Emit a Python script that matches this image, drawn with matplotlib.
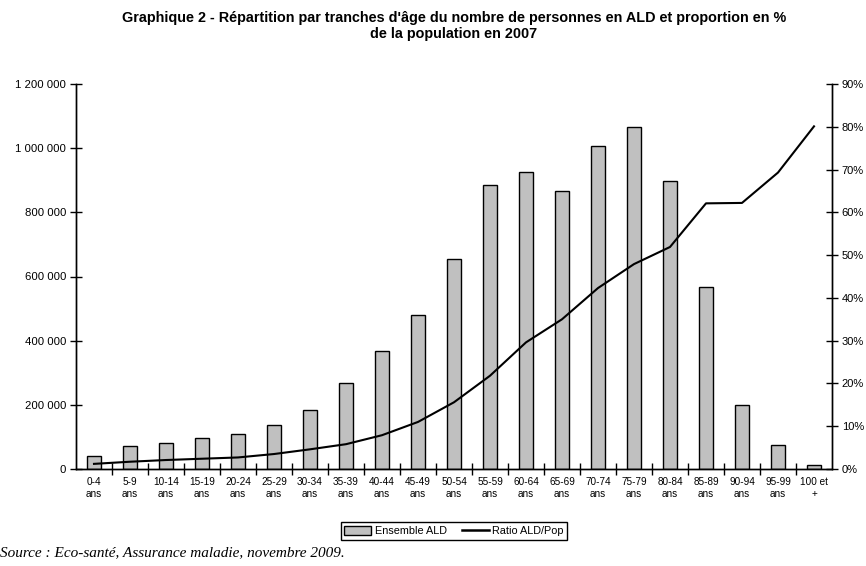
import matplotlib
matplotlib.use("Agg")
import matplotlib.pyplot as plt
from matplotlib.patches import Patch
from matplotlib.lines import Line2D
from matplotlib.ticker import FuncFormatter
import numpy as np

categories = ["0-4\nans", "5-9\nans", "10-14\nans", "15-19\nans", "20-24\nans",
              "25-29\nans", "30-34\nans", "35-39\nans", "40-44\nans", "45-49\nans",
              "50-54\nans", "55-59\nans", "60-64\nans", "65-69\nans", "70-74\nans",
              "75-79\nans", "80-84\nans", "85-89\nans", "90-94\nans", "95-99\nans",
              "100 et\n+"]
ald_counts = [40000, 72000, 81000, 96000, 108000, 137000, 184000, 268000, 368000,
              481000, 655000, 886000, 927000, 866000, 1006000, 1067000, 898000,
              568000, 200000, 75000, 11000]
ratio_pct = [1.2, 1.7, 2.1, 2.4, 2.7, 3.5, 4.6, 5.8, 7.9, 11.0, 15.6, 21.8, 29.6,
             35.0, 42.3, 47.9, 51.9, 62.1, 62.2, 69.3, 80.1]

plt.rcParams['font.family'] = ['Liberation Sans', 'DejaVu Sans']

fig = plt.figure(figsize=(8.66, 5.66), dpi=100)
ax = fig.add_axes([76/866, 1-469/566, (832-76)/866, (469-84)/566])
ax2 = ax.twinx()

x = np.arange(len(categories))
ax.bar(x, ald_counts, width=0.41, color="#c0c0c0", edgecolor="black", linewidth=1.0, zorder=2)
ax2.plot(x, ratio_pct, color="black", linewidth=1.5, zorder=3)

ax.set_xlim(-0.5, len(categories) - 0.5)
ax.set_ylim(0, 1200000)
ax.set_yticks(np.arange(0, 1200001, 200000))
ax.yaxis.set_major_formatter(FuncFormatter(lambda v, p: f"{int(v):,}".replace(",", " ")))
ax2.set_ylim(0, 90)
ax2.set_yticks(np.arange(0, 91, 10))
ax2.yaxis.set_major_formatter(FuncFormatter(lambda v, p: f"{int(v)}%"))

ax.set_xticks(np.arange(0.5, len(categories) - 0.5, 1.0))
ax.set_xticklabels([])
ax.set_xticks(x, minor=True)
ax.set_xticklabels(categories, minor=True, fontsize=7.2, linespacing=1.15)
ax.tick_params(axis='x', which='major', direction='inout', length=9, width=1.0)
ax.tick_params(axis='x', which='minor', length=0, pad=6)
ax.tick_params(axis='y', direction='inout', length=8, width=1.0, labelsize=8.2, pad=3)
ax2.tick_params(axis='y', direction='inout', length=8, width=1.0, labelsize=8, pad=3)

for a in (ax, ax2):
    a.spines['top'].set_visible(False)
    for s in ('left', 'right', 'bottom'):
        a.spines[s].set_linewidth(1.0)
        a.spines[s].set_color('black')

fig.text(0.524, 1-26/566,
         "Graphique 2 - Répartition par tranches d'âge du nombre de personnes en ALD et proportion en %\nde la population en 2007",
         ha='center', va='center', fontsize=10.4, fontweight='bold', linespacing=1.15)

handles = [Patch(facecolor="#c0c0c0", edgecolor="black", linewidth=1.0),
           Line2D([0], [0], color="black", linewidth=1.8)]
leg = fig.legend(handles, ["Ensemble ALD", "Ratio ALD/Pop"], loc='center',
                 bbox_to_anchor=(454/866, 1-531/566), ncol=2, fontsize=7.8,
                 frameon=True, fancybox=False, edgecolor='black', framealpha=1,
                 handlelength=2.5, handleheight=0.9, columnspacing=1.4,
                 borderpad=0.35, handletextpad=0.3)
leg.get_frame().set_linewidth(1.0)

fig.text(0.0, 1-553/566, "Source : Eco-santé, Assurance maladie, novembre 2009.",
         ha='left', va='center', fontsize=11, style='italic',
         family=['Liberation Serif', 'DejaVu Serif'])

fig.savefig("out.png", dpi=100)
